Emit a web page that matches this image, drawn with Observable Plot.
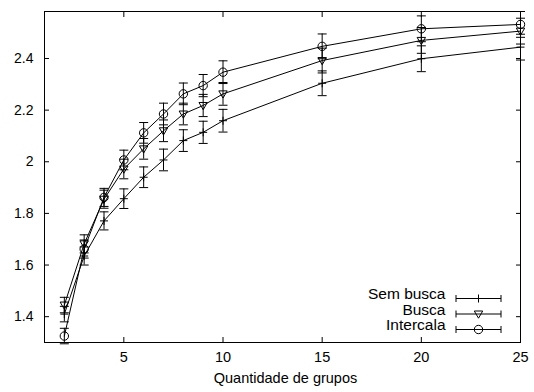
<!DOCTYPE html>
<html>
<head>
<meta charset="utf-8">
<script src="https://cdn.jsdelivr.net/npm/d3@7"></script>
<script src="https://cdn.jsdelivr.net/npm/@observablehq/plot@0.6"></script>
<style>
  body { margin: 0; background: #fff; }
</style>
</head>
<body>
<div id="chart"></div>
<script>
// Number of groups on the x axis
const grupos = [2, 3, 4, 5, 6, 7, 8, 9, 10, 15, 20, 25];

// Mean values for each strategy
const semBusca  = [1.410, 1.635, 1.771, 1.857, 1.940, 2.007, 2.082, 2.114, 2.159, 2.304, 2.399, 2.444];
const busca     = [1.445, 1.682, 1.855, 1.972, 2.050, 2.120, 2.185, 2.218, 2.263, 2.392, 2.470, 2.506];
const intercala = [1.325, 1.662, 1.862, 2.007, 2.112, 2.185, 2.263, 2.295, 2.347, 2.447, 2.515, 2.532];

// Half-width of the error bars
const erro = [0.030, 0.035, 0.035, 0.038, 0.040, 0.042, 0.042, 0.043, 0.044, 0.048, 0.050, 0.050];

const seriesNames = ["Sem busca", "Busca", "Intercala"];
const xTicks = [5, 10, 15, 20, 25];
const yTicks = [1.4, 1.6, 1.8, 2.0, 2.2, 2.4];
const xLabel = "Quantidade de grupos";

// Point symbols drawn as open strokes
const plusSym = {draw(c) { const s = 4; c.moveTo(-s, 0); c.lineTo(s, 0); c.moveTo(0, -s); c.lineTo(0, s); }};
const triDownSym = {draw(c) { c.moveTo(-4.2, -3); c.lineTo(4.2, -3); c.lineTo(0, 4.2); c.closePath(); }};
const circleSym = {draw(c) { c.moveTo(4.2, 0); c.arc(0, 0, 4.2, 0, 2 * Math.PI); }};
const capSym = {draw(c) { c.moveTo(-4.5, 0); c.lineTo(4.5, 0); }};
const keySym = {draw(c) {
  const h = 22.5, t = 3.5;
  c.moveTo(-h, 0); c.lineTo(h, 0);
  c.moveTo(-h, -t); c.lineTo(-h, t);
  c.moveTo(h, -t); c.lineTo(h, t);
}};
const symbols = [plusSym, triDownSym, circleSym];

const valores = [semBusca, busca, intercala];
const rows = valores.flatMap((vals, si) => grupos.map((g, i) => ({
  serie: seriesNames[si], x: g, y: vals[i], lo: vals[i] - erro[i], hi: vals[i] + erro[i]
})));

const marks = [];
seriesNames.forEach((name, si) => {
  const d = rows.filter(r => r.serie === name);
  marks.push(
    Plot.ruleX(d, {x: "x", y1: "lo", y2: "hi", stroke: "black", strokeWidth: 1}),
    Plot.dot(d, {x: "x", y: "lo", symbol: capSym, r: 4, stroke: "black", strokeWidth: 1}),
    Plot.dot(d, {x: "x", y: "hi", symbol: capSym, r: 4, stroke: "black", strokeWidth: 1}),
    Plot.line(d, {x: "x", y: "y", stroke: "black", strokeWidth: 1}),
    Plot.dot(d, {x: "x", y: "y", symbol: symbols[si], r: 4, stroke: "black", fill: "none", strokeWidth: 1})
  );
});

// Key in the lower-right corner of the frame
const keyDy = [-44, -28.5, -13];
seriesNames.forEach((name, si) => {
  marks.push(
    Plot.text([name], {text: d => d, frameAnchor: "bottom-right", textAnchor: "end", dx: -75, dy: keyDy[si] + 0.5, fontSize: 15.5, fill: "black"}),
    Plot.dot([name], {frameAnchor: "bottom-right", dx: -42, dy: keyDy[si], symbol: keySym, r: 4, stroke: "black", strokeWidth: 1}),
    Plot.dot([name], {frameAnchor: "bottom-right", dx: -42, dy: keyDy[si], symbol: symbols[si], r: 4, stroke: "black", fill: "none", strokeWidth: 1})
  );
});

const chart = Plot.plot({
  width: 534,
  height: 392,
  marginLeft: 44,
  marginRight: 14,
  marginTop: 11,
  marginBottom: 50,
  style: {fontFamily: "'Liberation Sans', Arial, sans-serif", fontSize: "14px", background: "white", color: "black"},
  x: {domain: [1, 25]},
  y: {domain: [1.3, 2.582]},
  marks: [
    Plot.axisX({ticks: xTicks, tickSize: -5, tickPadding: 14, label: null, fontSize: 14.5}),
    Plot.axisX({anchor: "top", ticks: xTicks, tickSize: -5, tickFormat: () => "", label: null}),
    Plot.axisY({ticks: yTicks, tickSize: -5, tickPadding: 16, label: null, fontSize: 14, tickFormat: d => String(+d.toFixed(1))}),
    Plot.axisY({anchor: "right", ticks: yTicks, tickSize: -5, tickFormat: () => "", label: null}),
    Plot.frame({stroke: "black", strokeWidth: 1}),
    Plot.text([xLabel], {text: d => d, frameAnchor: "bottom", dx: 3, dy: 40, fontSize: 14.5, fill: "black"}),
    ...marks
  ]
});
document.getElementById("chart").appendChild(chart);
</script>
</body>
</html>
